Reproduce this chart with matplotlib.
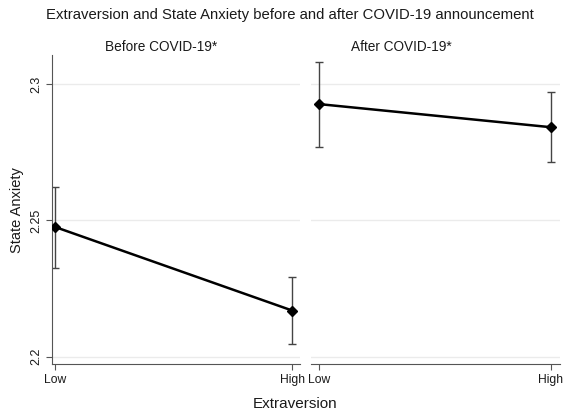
import matplotlib
matplotlib.use("Agg")
import matplotlib.pyplot as plt
import numpy as np

plt.rcParams['font.family'] = ['Liberation Sans', 'DejaVu Sans']

categories = ["Low", "High"]
panels = ["Before COVID-19*", "After COVID-19*"]
means_before = [2.2476, 2.2169]
lo_before = [2.2327, 2.2045]
hi_before = [2.2624, 2.2293]
means_after = [2.2927, 2.2842]
lo_after = [2.2769, 2.2713]
hi_after = [2.3081, 2.2973]
yticks = [2.2, 2.25, 2.3]
ytick_labels = ["2.2", "2.25", "2.3"]

W, H = 563, 412
fig = plt.figure(figsize=(W / 100, H / 100), dpi=100)

def px(x0, y0, x1, y1):
    return [x0 / W, 1 - y1 / H, (x1 - x0) / W, (y1 - y0) / H]

ax1 = fig.add_axes(px(51.7, 55, 300, 364.3))
ax2 = fig.add_axes(px(311, 55, 560, 364.3))

spine_col = "#555555"
grid_col = "#ebebeb"
err_col = "#444444"
txt_col = "#1a1a1a"

data = [(ax1, means_before, lo_before, hi_before, (-0.014, 1.032)),
        (ax2, means_after, lo_after, hi_after, (-0.033, 1.039))]

for ax, m, lo, hi, xl in data:
    x = np.arange(len(categories))
    m = np.array(m); lo = np.array(lo); hi = np.array(hi)
    ax.errorbar(x, m, yerr=[m - lo, hi - m], fmt='none', ecolor=err_col,
                elinewidth=1.0, capsize=3, capthick=1.0, zorder=2)
    ax.plot(x, m, color='black', lw=1.8, marker='D', markersize=5.5,
            markerfacecolor='black', markeredgecolor='black', zorder=3)
    ax.set_xlim(*xl)
    ax.set_ylim(2.1972, 2.3107)
    ax.set_yticks(yticks)
    ax.grid(axis='y', color=grid_col, lw=1.0, zorder=0)
    ax.set_xticks(x)
    ax.set_xticklabels(categories, fontsize=8.7, color=txt_col)
    for s in ['top', 'right']:
        ax.spines[s].set_visible(False)
    ax.spines['bottom'].set_color(spine_col)
    ax.spines['left'].set_color(spine_col)
    ax.tick_params(axis='x', length=4, width=0.8, color=spine_col, pad=3)
    ax.set_axisbelow(True)

ax1.set_yticklabels(ytick_labels, rotation=90, va='center', fontsize=9, color=txt_col)
ax1.tick_params(axis='y', length=4, width=0.8, color=spine_col, pad=3)
ax2.spines['left'].set_visible(False)
ax2.tick_params(axis='y', left=False, labelleft=False)

fig.text(290 / W, 1 - 15 / H, "Extraversion and State Anxiety before and after COVID-19 announcement",
         ha='center', va='center', fontsize=10.75, color=txt_col)
fig.text(161 / W, 1 - 46.7 / H, panels[0], ha='center', va='center', fontsize=9.8, color=txt_col)
fig.text(401 / W, 1 - 46.7 / H, panels[1], ha='center', va='center', fontsize=9.8, color=txt_col)
fig.text(295 / W, 1 - 404 / H, "Extraversion", ha='center', va='center', fontsize=11, color=txt_col)
fig.text(17 / W, 1 - 210 / H, "State Anxiety", ha='center', va='center', rotation=90,
         fontsize=10.5, color=txt_col)

fig.savefig("out.png", dpi=100)
